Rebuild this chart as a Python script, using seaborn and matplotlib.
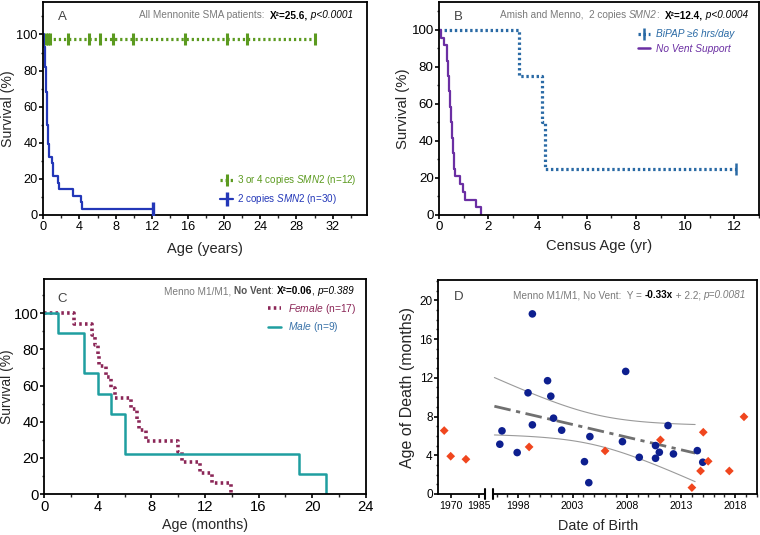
import numpy as np
import pandas as pd
import matplotlib
matplotlib.use("Agg")
import matplotlib.pyplot as plt
import seaborn as sns
from matplotlib.lines import Line2D
from matplotlib.ticker import MultipleLocator, FixedLocator

# ---------------- data ----------------
# Panel A : all Mennonite SMA patients (age in years, survival %)
a_two_t = [0, 0.05, 0.12, 0.17, 0.20, 0.23, 0.26, 0.29, 0.31, 0.33, 0.36, 0.39, 0.42, 0.44,
           0.46, 0.48, 0.51, 0.54, 0.58, 0.66, 0.92, 1.03, 1.10, 1.66, 1.77, 3.24, 4.12, 4.24, 12.15]
a_two_s = [100, 96.4, 92.9, 89.3, 85.7, 82.1, 78.6, 75.0, 71.4, 67.9, 64.3, 60.7, 57.1, 53.6,
           50.0, 46.4, 42.9, 39.3, 35.7, 32.1, 28.6, 25.0, 21.4, 17.9, 14.3, 10.7, 7.1, 3.6, 3.6]
a_two_cens_t = [12.15]
a_two_cens_s = [3.6]
a_34_t = [0, 30.1]
a_34_s = [97.5, 97.5]
a_34_cens_t = [0.35, 0.55, 0.75, 2.69, 5.08, 6.3, 7.66, 9.94, 15.7, 20.3, 22.5, 30.0]
a_34_cens_s = [97.5] * 12

# Panel B : Amish and Menno, 2 copies SMN2 (census age in years)
b_bipap_t = [0, 3.25, 4.18, 4.30, 12.05]
b_bipap_s = [100, 75, 50, 25, 25]
b_bipap_cens_t = [12.05]
b_bipap_cens_s = [25]
b_novent_t = [0, 0.08, 0.19, 0.30, 0.32, 0.34, 0.36, 0.38, 0.40, 0.42, 0.44, 0.46, 0.48, 0.50,
              0.52, 0.54, 0.56, 0.58, 0.60, 0.62, 0.84, 0.97, 1.04, 1.50, 1.71]
b_novent_s = [100, 95.8, 91.7, 87.5, 83.3, 79.2, 75.0, 70.8, 66.7, 62.5, 58.3, 54.2, 50.0, 45.8,
              41.7, 37.5, 33.3, 29.2, 25.0, 20.8, 16.7, 12.5, 8.3, 4.2, 0.0]

# Panel C : Menno M1/M1, no vent, by sex (age in months)
c_female_t = [0, 2.2, 3.55, 3.8, 4.0, 4.1, 4.6, 5.0, 5.3, 6.5, 6.9, 7.1, 7.6, 10.0, 10.3, 11.6, 12.5, 13.95]
c_female_s = [100, 94.1, 88.2, 82.4, 76.5, 70.6, 64.7, 58.8, 52.9, 47.1, 41.2, 35.3, 29.4, 23.5,
              17.6, 11.8, 5.9, 0.0]
c_male_t = [0, 1, 3, 4, 5, 6, 19, 21]
c_male_s = [100, 88.9, 66.7, 55.6, 44.4, 22.2, 11.1, 0.0]

# Panel D : age of death (months) vs date of birth
d_blue_x = [1996.3, 1996.5, 1997.9, 1998.9, 1999.3, 1999.3, 2000.7, 2001.0, 2001.25, 2002.0,
            2004.1, 2004.6, 2004.5, 2007.6, 2007.9, 2009.15, 2010.65, 2010.65, 2011.0, 2011.8,
            2012.3, 2014.5, 2015.0]
d_blue_y = [5.14, 6.52, 4.28, 10.45, 18.6, 7.14, 11.7, 10.1, 7.83, 6.59, 3.34, 5.93, 1.17, 5.41,
            12.66, 3.79, 5.0, 3.69, 4.31, 7.07, 4.14, 4.48, 3.28]
d_red_x = [1966.6, 1970.0, 1978.0, 1999.0, 2006.0, 2011.1, 2014.0, 2014.8, 2015.05, 2015.5, 2017.45, 2018.8]
d_red_y = [6.55, 3.9, 3.59, 4.86, 4.45, 5.59, 0.66, 2.38, 6.38, 3.38, 2.38, 7.97]
d_xticks = [1970, 1985, 1998, 2003, 2008, 2013, 2018]

# ---------------- style ----------------
sns.set_style("ticks")
plt.rcParams["font.family"] = ["Liberation Sans", "DejaVu Sans"]
plt.rcParams["mathtext.fontset"] = "custom"
plt.rcParams["mathtext.rm"] = "Liberation Sans"
plt.rcParams["mathtext.it"] = "Liberation Sans:italic"
plt.rcParams["mathtext.bf"] = "Liberation Sans:bold"

GREEN = "#5b9a1f"
BLUE_A = "#2337b8"
BLUE_B = "#2a6aa5"
PURPLE = "#6b2fa3"
FEMALE = "#8b2657"
MALE = "#1f9ea0"
MALE_TXT = "#3871a8"
GRAY = "#7a7a7a"
D_BLUE = "#0d1f8f"
D_RED = "#f0461e"
ANN = 7.2
LEG = 7.1

W, H = 760, 535
fig = plt.figure(figsize=(W / 100, H / 100), dpi=100)


def px_axes(l, t, r, b):
    return fig.add_axes([l / W, 1 - b / H, (r - l) / W, (b - t) / H])


axA = px_axes(43.3, 2, 367, 215)
axB = px_axes(439.3, 2, 759, 215)
axC = px_axes(44.3, 279, 365.7, 494)
axD = px_axes(438.3, 280, 757, 494)


def frame(ax, tsize):
    for sp in ax.spines.values():
        sp.set_visible(True)
        sp.set_linewidth(1.3)
        sp.set_color("black")
    ax.tick_params(which="major", direction="out", length=3, width=1.2, labelsize=tsize,
                   colors="black", pad=1)
    ax.tick_params(which="minor", direction="out", length=1.8, width=1.0)


def step(ax, t, s, color, lw, ls="-"):
    sns.lineplot(x=t, y=s, ax=ax, color=color, linewidth=lw, linestyle=ls,
                 drawstyle="steps-post", estimator=None, sort=False, errorbar=None)


def cens(ax, t, s, color, size, lw):
    sns.scatterplot(x=t, y=s, ax=ax, marker="|", s=size, color=color, linewidth=lw, zorder=5)


def chain(ax, pieces, x, y):
    prev = None
    for txt, kw in reversed(pieces):
        if prev is None:
            prev = ax.text(x, y, txt, transform=ax.transAxes, ha="right", va="bottom",
                           fontsize=ANN, **kw)
        else:
            prev = ax.annotate(txt, xy=(0, 0), xycoords=prev, ha="right", va="bottom",
                               fontsize=ANN, **kw)


# ---------------- Panel A ----------------
ax = axA
step(ax, a_34_t, a_34_s, GREEN, 2.3, (0, (0.7, 0.9)))
cens(ax, a_34_cens_t, a_34_cens_s, GREEN, 65, 2.2)
step(ax, a_two_t, a_two_s, BLUE_A, 1.6)
cens(ax, a_two_cens_t, a_two_cens_s, BLUE_A, 100, 2.4)
ax.set_xlim(0, 35.8)
ax.set_ylim(0, 118)
ax.xaxis.set_major_locator(MultipleLocator(4))
ax.xaxis.set_minor_locator(MultipleLocator(2))
ax.yaxis.set_major_locator(FixedLocator([0, 20, 40, 60, 80, 100]))
ax.yaxis.set_minor_locator(MultipleLocator(10))
frame(ax, 9.2)
ax.set_xlabel("Age (years)", fontsize=10.5, labelpad=7)
ax.set_ylabel("Survival (%)", fontsize=10.2, labelpad=1)
ax.text(0.045, 0.915, "A", transform=ax.transAxes, fontsize=9.5, color="#444444")
chain(ax, [("All Mennonite SMA patients:  ", dict(color=GRAY)),
           ("X²=25.6,", dict(color="black", fontweight="bold")),
           (" p<0.0001", dict(color="black", fontstyle="italic"))], 0.957, 0.915)
hA = [Line2D([], [], color=GREEN, lw=2.3, ls=(0, (0.7, 0.9)), marker="|", ms=9, mew=2.2),
      Line2D([], [], color=BLUE_A, lw=1.6, marker="|", ms=10, mew=2.4)]
ax.legend(hA, ["3 or 4 copies $\\mathit{SMN2}$ (n=12)", "2 copies $\\mathit{SMN2}$ (n=30)"],
          labelcolor=[GREEN, BLUE_A], loc="lower right", bbox_to_anchor=(0.968, 0.04),
          frameon=False, fontsize=LEG, handlelength=1.3, handletextpad=0.4, labelspacing=0.55,
          borderpad=0, borderaxespad=0)

# ---------------- Panel B ----------------
ax = axB
step(ax, b_bipap_t, b_bipap_s, BLUE_B, 2.3, (0, (0.75, 0.85)))
cens(ax, b_bipap_cens_t, b_bipap_cens_s, BLUE_B, 65, 1.8)
step(ax, b_novent_t, b_novent_s, PURPLE, 1.6)
ax.set_xlim(0, 13)
ax.set_ylim(0, 115)
ax.xaxis.set_major_locator(MultipleLocator(2))
ax.xaxis.set_minor_locator(MultipleLocator(1))
ax.yaxis.set_major_locator(FixedLocator([0, 20, 40, 60, 80, 100]))
ax.yaxis.set_minor_locator(MultipleLocator(10))
frame(ax, 9.6)
ax.set_xlabel("Census Age (yr)", fontsize=10.6, labelpad=5)
ax.set_ylabel("Survival (%)", fontsize=10.7, labelpad=1)
ax.text(0.045, 0.915, "B", transform=ax.transAxes, fontsize=9.5, color="#444444")
chain(ax, [("Amish and Menno,  2 copies ", dict(color=GRAY)),
           ("SMN2", dict(color=GRAY, fontstyle="italic")),
           (":  ", dict(color=GRAY)),
           ("X²=12.4,", dict(color="black", fontweight="bold")),
           (" p<0.0004", dict(color="black", fontstyle="italic"))], 0.967, 0.915)
hB = [Line2D([], [], color=BLUE_B, lw=2.3, ls=(0, (0.75, 0.85)), marker="|", ms=9, mew=1.8),
      Line2D([], [], color=PURPLE, lw=1.8)]
ax.legend(hB, ["BiPAP ≥6 hrs/day", "No Vent Support"], labelcolor=[BLUE_B, PURPLE],
          loc="upper right", bbox_to_anchor=(0.922, 0.872), frameon=False,
          prop={"style": "italic", "size": 7.3}, handlelength=1.1, handletextpad=0.6,
          labelspacing=0.45, borderpad=0, borderaxespad=0)

# ---------------- Panel C ----------------
ax = axC
step(ax, c_female_t, c_female_s, FEMALE, 2.6, (0, (0.7, 0.9)))
step(ax, c_male_t, c_male_s, MALE, 1.8)
ax.set_xlim(0, 24)
ax.set_ylim(0, 119)
ax.xaxis.set_major_locator(MultipleLocator(4))
ax.xaxis.set_minor_locator(MultipleLocator(2))
ax.yaxis.set_major_locator(FixedLocator([0, 20, 40, 60, 80, 100]))
ax.yaxis.set_minor_locator(MultipleLocator(10))
frame(ax, 10.6)
ax.set_xlabel("Age (months)", fontsize=10.3, labelpad=3.5)
ax.set_ylabel("Survival (%)", fontsize=9.9, labelpad=0)
ax.text(0.04, 0.895, "C", transform=ax.transAxes, fontsize=9.5, color="#444444")
chain(ax, [("Menno M1/M1, ", dict(color=GRAY)),
           ("No Vent", dict(color="#555555", fontweight="bold")),
           (": ", dict(color=GRAY)),
           ("X²=0.06", dict(color="black", fontweight="bold")),
           (", ", dict(color="black")),
           ("p=0.389", dict(color="black", fontstyle="italic"))], 0.964, 0.92)
hC = [Line2D([], [], color=FEMALE, lw=2.6, ls=(0, (0.7, 0.9))),
      Line2D([], [], color=MALE, lw=1.8)]
ax.legend(hC, ["$\\mathit{Female}$ (n=17)", "$\\mathit{Male}$ (n=9)"],
          labelcolor=[FEMALE, MALE_TXT], loc="upper right", bbox_to_anchor=(0.972, 0.895),
          frameon=False, fontsize=LEG + 0.3, handlelength=1.3, handletextpad=0.7,
          labelspacing=0.45, borderpad=0, borderaxespad=0)

# ---------------- Panel D ----------------
ax = axD
sns.scatterplot(x=d_blue_x, y=d_blue_y, ax=ax, color=D_BLUE, s=30, edgecolor="none", zorder=4)
sns.scatterplot(x=d_red_x, y=d_red_y, ax=ax, color=D_RED, marker="D", s=20, edgecolor="none",
                zorder=4)
# linear fit with 95% confidence band, computed from the blue points
bx = np.asarray(d_blue_x)
by = np.asarray(d_blue_y)
n = len(bx)
slope, icpt = np.polyfit(bx, by, 1)
xg = np.linspace(bx.min() - 0.5, bx.max() - 0.7, 100)
yg = icpt + slope * xg
resid = by - (icpt + slope * bx)
s_err = np.sqrt(np.sum(resid ** 2) / (n - 2))
sxx = np.sum((bx - bx.mean()) ** 2)
half = 2.08 * s_err * np.sqrt(1 / n + (xg - bx.mean()) ** 2 / sxx)
sns.lineplot(x=xg, y=yg, ax=ax, color="#707070", linewidth=2.0, linestyle=(0, (6, 2, 1.5, 2)),
             estimator=None, sort=False, errorbar=None)
sns.lineplot(x=xg, y=yg + half, ax=ax, color="#9a9a9a", linewidth=0.8, estimator=None,
             sort=False, errorbar=None)
sns.lineplot(x=xg, y=yg - half, ax=ax, color="#9a9a9a", linewidth=0.8, estimator=None,
             sort=False, errorbar=None)

# broken date axis (compressed early segment, gap, regular segment)
XP = [1963.5, 1988.0, 1995.7, 2020.0]
FP = [0.0, 46.7, 55.0, 318.7]
ax.set_xscale("function", functions=(lambda v: np.interp(v, XP, FP),
                                     lambda v: np.interp(v, FP, XP)))
ax.set_xlim(XP[0], XP[-1])
ax.set_ylim(0, 22.1)
ax.xaxis.set_major_locator(FixedLocator(d_xticks))
ax.xaxis.set_minor_locator(FixedLocator([y for y in range(1996, 2021) if y not in d_xticks]))
ax.yaxis.set_major_locator(MultipleLocator(4))
ax.yaxis.set_minor_locator(MultipleLocator(1))
frame(ax, 8.5)
ax.tick_params(axis="x", which="major", labelsize=7.6, pad=2)
ax.spines["bottom"].set_bounds(XP[2], XP[3])
xt = ax.get_xaxis_transform()
ax.plot([XP[0], XP[1]], [0, 0], transform=xt, color="black", lw=1.3, clip_on=False,
        solid_capstyle="butt")
for xb in (XP[1], XP[2]):
    ax.plot([xb, xb], [-0.022, 0.022], transform=xt, color="black", lw=1.5, clip_on=False)
ax.set_xlabel("Date of Birth", fontsize=10.4, labelpad=6)
ax.set_ylabel("Age of Death (months)", fontsize=11.5, labelpad=3)
ax.text(0.05, 0.905, "D", transform=ax.transAxes, fontsize=9.5, color="#444444")
chain(ax, [("Menno M1/M1, No Vent:  Y = ", dict(color=GRAY)),
           ("-0.33x", dict(color="black", fontweight="bold")),
           (" + 2.2; ", dict(color=GRAY)),
           ("p=0.0081", dict(color=GRAY, fontstyle="italic"))], 0.965, 0.905)

fig.savefig("out.png", dpi=100)
